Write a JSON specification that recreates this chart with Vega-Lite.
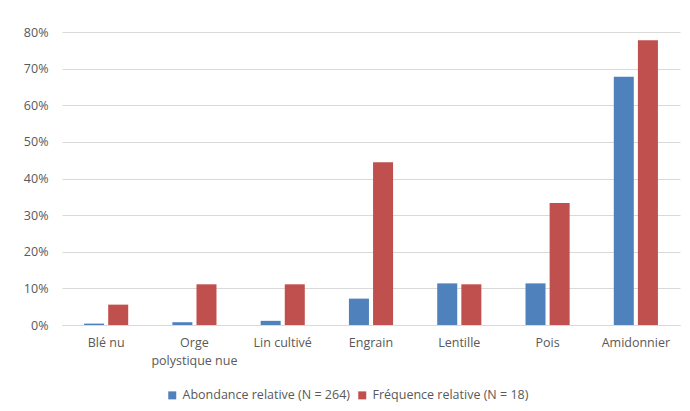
{
  "$schema": "https://vega.github.io/schema/vega-lite/v6.json",
  "width": 618,
  "height": 293,
  "autosize": {"type": "none"},
  "padding": {"left": 62, "top": 32, "right": 10, "bottom": 86},
  "background": "white",
  "config": {
    "view": {"stroke": null},
    "font": "Open Sans",
    "axis": {"labelFont": "Open Sans", "labelColor": "#595959", "labelFontSize": 12.5},
    "legend": {"labelFont": "Open Sans", "labelColor": "#595959", "labelFontSize": 12.5}
  },
  "data": {
    "values": [
      {"taxon": "Blé nu", "serie": "Abondance relative (N = 264)", "v": 0.0038},
      {"taxon": "Blé nu", "serie": "Fréquence relative (N = 18)", "v": 0.0556},
      {"taxon": "Orge polystique nue", "serie": "Abondance relative (N = 264)", "v": 0.0076},
      {"taxon": "Orge polystique nue", "serie": "Fréquence relative (N = 18)", "v": 0.1111},
      {"taxon": "Lin cultivé", "serie": "Abondance relative (N = 264)", "v": 0.0114},
      {"taxon": "Lin cultivé", "serie": "Fréquence relative (N = 18)", "v": 0.1111},
      {"taxon": "Engrain", "serie": "Abondance relative (N = 264)", "v": 0.072},
      {"taxon": "Engrain", "serie": "Fréquence relative (N = 18)", "v": 0.4444},
      {"taxon": "Lentille", "serie": "Abondance relative (N = 264)", "v": 0.1136},
      {"taxon": "Lentille", "serie": "Fréquence relative (N = 18)", "v": 0.1111},
      {"taxon": "Pois", "serie": "Abondance relative (N = 264)", "v": 0.1136},
      {"taxon": "Pois", "serie": "Fréquence relative (N = 18)", "v": 0.3333},
      {"taxon": "Amidonnier", "serie": "Abondance relative (N = 264)", "v": 0.678},
      {"taxon": "Amidonnier", "serie": "Fréquence relative (N = 18)", "v": 0.7778}
    ]
  },
  "mark": {"type": "bar"},
  "encoding": {
    "x": {
      "field": "taxon",
      "type": "nominal",
      "sort": null,
      "scale": {"paddingInner": 0.5, "paddingOuter": 0.25},
      "axis": {
        "title": null,
        "labelAngle": 0,
        "ticks": false,
        "tickSize": 0,
        "domainColor": "#d9d9d9",
        "domainWidth": 1,
        "labelPadding": 11,
        "labelLineHeight": 18,
        "labelExpr": "datum.label == 'Orge polystique nue' ? ['Orge', 'polystique nue'] : datum.label"
      }
    },
    "xOffset": {
      "field": "serie",
      "type": "nominal",
      "scale": {"paddingInner": 0.17}
    },
    "y": {
      "field": "v",
      "type": "quantitative",
      "scale": {"domain": [0, 0.8]},
      "axis": {
        "title": null,
        "format": ".0%",
        "values": [0, 0.1, 0.2, 0.3, 0.4, 0.5, 0.6, 0.7, 0.8],
        "domain": false,
        "ticks": false,
        "tickSize": 0,
        "labelPadding": 14,
        "gridColor": "#d9d9d9",
        "gridWidth": 1
      }
    },
    "color": {
      "field": "serie",
      "type": "nominal",
      "scale": {"range": ["#4f81bd", "#c0504d"]},
      "legend": {
        "title": null,
        "orient": "none",
        "legendX": 104,
        "legendY": 357,
        "direction": "horizontal",
        "symbolType": "square",
        "symbolSize": 64,
        "symbolStrokeWidth": 0,
        "labelOffset": 4,
        "labelLimit": 400,
        "columnPadding": 6
      }
    }
  }
}
